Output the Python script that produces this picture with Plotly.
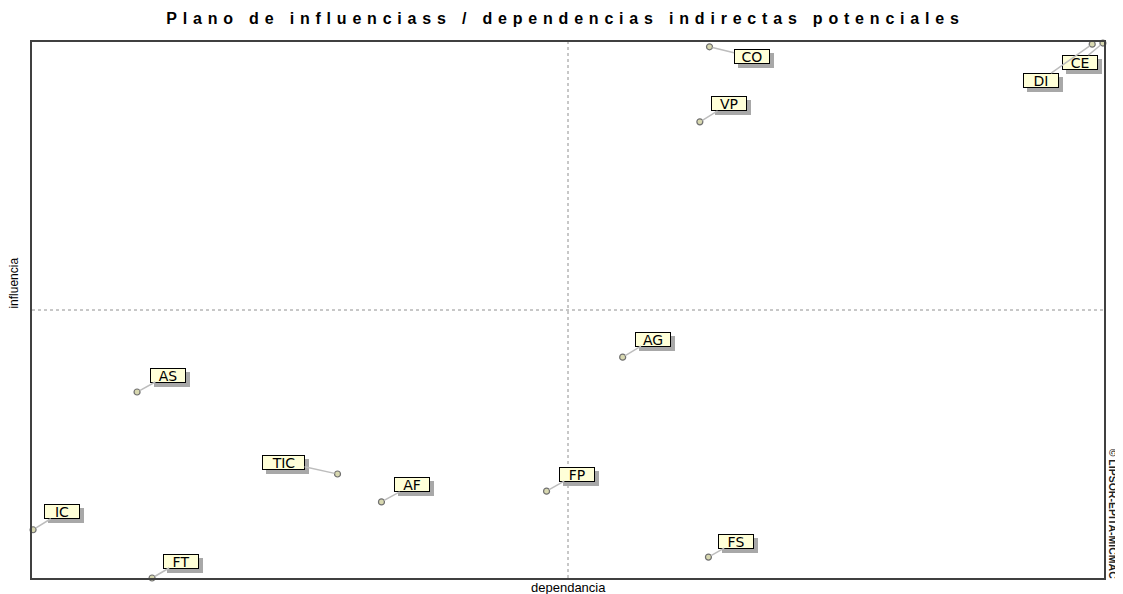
import plotly.graph_objects as go

# Variables (MICMAC indirect potential influence / dependence plane)
labels = ["CO", "CE", "DI", "VP", "AG", "AS", "TIC", "AF", "FP", "IC", "FT", "FS"]
dependence = [632, 999, 989, 623, 551, 98, 285, 326, 480, 1, 112, 631]
influence = [991, 998, 996, 851, 412, 347, 194, 142, 162, 90, 0, 39]
# label offsets (pixels) relative to each point
label_dx = [42, -23, -51, 29, 30, 31, -54, 31, 30, 29, 29, 28]
label_dy = [10, 19, 36, -18, -18, -17, -12, -17, -17, -18, -17, -16]

mean_dep = 500
mean_inf = 500
x_range = [0, 1000]
y_range = [0, 1000]

title_text = "Plano de influenciass / dependencias indirectas potenciales"
x_title = "dependancia"
y_title = "influencia"
credit = "© LIPSOR-EPITA-MICMAC"

LABEL_FONT = "DejaVu Sans, Verdana, sans-serif"

fig = go.Figure()
fig.add_trace(go.Scatter(
    x=dependence, y=influence, mode="markers",
    marker=dict(size=6, color="#d8d8b0", line=dict(color="#707070", width=1.2)),
    cliponaxis=False, hoverinfo="text", text=labels, showlegend=False,
))

def box_w(lab):
    return 8 + 11 * len(lab) if len(lab) > 2 else 34

annotations = []
for lab, xv, yv, dx, dy in zip(labels, dependence, influence, label_dx, label_dy):
    # drop shadow box
    annotations.append(dict(
        x=xv, y=yv, xref="x", yref="y", ax=dx + 4, ay=dy + 4, axref="pixel", ayref="pixel",
        text=" ", showarrow=True, arrowcolor="rgba(0,0,0,0)", arrowwidth=0.1, arrowhead=0,
        width=box_w(lab), height=13,
        font=dict(family=LABEL_FONT, size=13, color="rgba(0,0,0,0)"),
        bgcolor="#a8a8a8", bordercolor="#a8a8a8", borderwidth=1, borderpad=0,
    ))
for lab, xv, yv, dx, dy in zip(labels, dependence, influence, label_dx, label_dy):
    annotations.append(dict(
        x=xv, y=yv, xref="x", yref="y", ax=dx, ay=dy, axref="pixel", ayref="pixel",
        text=lab, showarrow=True, arrowcolor="#bdbdbd", arrowwidth=1.5, arrowhead=0,
        standoff=3, width=box_w(lab), height=13,
        font=dict(family=LABEL_FONT, size=14, color="#000000"),
        bgcolor="#ffffd8", bordercolor="#000000", borderwidth=1, borderpad=0,
    ))

annotations += [
    dict(x=0.5, y=-0.0168, xref="paper", yref="paper", text=x_title, showarrow=False,
         xanchor="center", yanchor="middle",
         font=dict(family="Liberation Sans, Arial, sans-serif", size=13, color="#000")),
    dict(x=-0.008, y=0.55, xref="paper", yref="paper", text=y_title, showarrow=False,
         textangle=-90, xanchor="right", yanchor="middle",
         font=dict(family="Liberation Sans Narrow, Liberation Sans, Arial, sans-serif", size=12, color="#000")),
    dict(x=1.0084, y=0.12, xref="paper", yref="paper", text=credit, showarrow=False,
         textangle=90, xanchor="center", yanchor="middle",
         font=dict(family="Liberation Sans Narrow, Liberation Sans, Arial, sans-serif", size=10.5,
                   color="#222", weight="bold")),
]

shapes = [
    dict(type="line", xref="x", yref="paper", x0=mean_dep, x1=mean_dep, y0=0, y1=1,
         line=dict(color="#909090", width=1, dash="dot"), layer="below"),
    dict(type="line", xref="paper", yref="y", x0=0, x1=1, y0=mean_inf, y1=mean_inf,
         line=dict(color="#909090", width=1, dash="dot"), layer="below"),
]

axis_common = dict(showgrid=False, zeroline=False, showticklabels=False, ticks="",
                   showline=True, mirror=True, linecolor="#404040", linewidth=1.5)

fig.update_layout(
    width=1115, height=586,
    margin=dict(l=24, r=19, t=34, b=16),
    paper_bgcolor="white", plot_bgcolor="white",
    title=dict(text='<span style="letter-spacing:5.8px">' + title_text + '</span>',
               x=0.5, xanchor="center", y=0.982, yanchor="middle",
               font=dict(family="Liberation Sans, Arial, sans-serif", size=16, color="#000",
                         weight="bold")),
    xaxis=dict(range=x_range, **axis_common),
    yaxis=dict(range=y_range, **axis_common),
    shapes=shapes,
    annotations=annotations,
)

fig.write_html("out.html")
